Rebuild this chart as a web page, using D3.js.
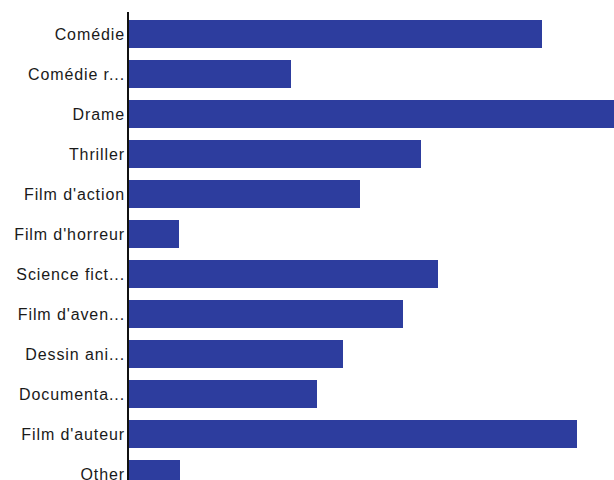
<!DOCTYPE html>
<html lang="fr">
<head>
    <meta charset="UTF-8">
    <title>Genres</title>
    <script src="https://cdnjs.cloudflare.com/ajax/libs/d3/7.8.5/d3.min.js"></script>
    <style>
        body { margin: 0; background: #fff; overflow: hidden; }
        svg text { font-family: "Liberation Sans", Arial, sans-serif; fill: #1a1a1a; }
    </style>
</head>
<body>
    <svg id="chart" width="614" height="480"></svg>

    <script>
        // genres (labels truncated as in the original)
        const genres = ["Comédie", "Comédie r...", "Drame", "Thriller", "Film d'action", "Film d'horreur",
            "Science fict...", "Film d'aven...", "Dessin ani...", "Documenta...", "Film d'auteur", "Other"];
        const counts = [41.4, 16.3, 52, 29.3, 23.2, 5.1, 31.0, 27.5, 21.5, 18.9, 44.9, 5.2];

        const svg = d3.select("#chart");
        const left = 128;

        const x = d3.scaleLinear()
            .domain([0, 10])
            .range([left, left + 100]);

        const y = d3.scaleBand()
            .domain(genres)
            .range([12, 496])
            .paddingInner(0.3)
            .paddingOuter(0.2);

        svg.append("g")
            .selectAll("rect")
            .data(genres)
            .enter()
            .append("rect")
            .attr("x", x(0))
            .attr("y", d => y(d))
            .attr("width", (d, i) => x(counts[i]) - x(0))
            .attr("height", y.bandwidth())
            .attr("fill", "#2d3d9e");

        svg.append("line")
            .attr("x1", left).attr("x2", left)
            .attr("y1", 12).attr("y2", 496)
            .attr("stroke", "#111")
            .attr("stroke-width", 2);

        svg.append("g")
            .selectAll("text")
            .data(genres)
            .enter()
            .append("text")
            .attr("x", left - 3)
            .attr("y", d => y(d) + y.bandwidth() / 2)
            .attr("dy", "0.35em")
            .attr("text-anchor", "end")
            .attr("font-size", 16)
            .attr("letter-spacing", "0.9px")
            .text(d => d);
    </script>
</body>
</html>
